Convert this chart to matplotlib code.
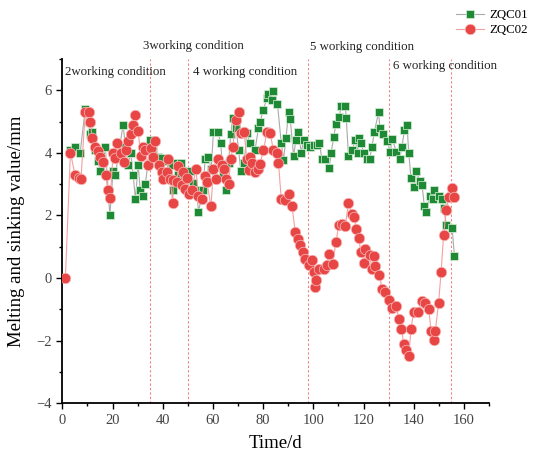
import matplotlib
matplotlib.use("Agg")
import matplotlib.pyplot as plt
from matplotlib.ticker import MultipleLocator

plt.rcParams['font.family'] = ['Liberation Serif', 'DejaVu Serif']

# ZQC01 (green squares)
t1 = [3.2, 5.1, 7.1, 9.1, 10.5, 11.1, 11.9, 12.9, 14.2, 15.1, 15.5, 17.1, 18.9, 20.2, 21.1,
      24.2, 25.1, 26.2, 27.2, 28.2, 29.1, 30.2, 31.0, 32.2, 33.1, 35.1, 36.3, 37.9, 39.6, 41.6,
      43.6, 44.0, 45.6, 46.2, 47.2, 50.9, 52.0, 53.6, 54.2, 56.0, 56.9, 58.2, 59.3, 60.2, 61.9,
      63.1, 63.9, 65.3, 66.2, 67.1, 67.9, 69.2, 70.2, 71.1, 72.4, 73.5, 74.8, 76.8, 78.1, 78.8,
      80.1, 81.5, 82.1, 83.5, 84.1, 85.7, 87.2, 88.1, 89.1, 90.1, 90.8, 92.1, 93.1, 93.9, 95.2,
      96.1, 97.4, 98.8, 100.1, 101.4, 102.4, 103.4, 104.7, 106.3, 107.1, 108.1, 109.0, 110.3, 111.1, 112.7,
      113.1, 114.0, 115.4, 116.7, 117.6, 118.0, 119.0, 120.0, 121.4, 122.4, 123.4, 124.3, 126.0, 126.5, 127.8,
      129.4, 130.7, 131.4, 133.1, 134.4, 135.3, 136.3, 137.3, 138.0, 138.9, 140.2, 141.0, 142.4, 143.3, 144.2,
      145.0, 146.3, 147.7, 148.2, 149.9, 151.3, 151.9, 153.0, 155.3, 156.2]
v1 = [4.10, 4.19, 4.01, 5.40, 5.00, 4.60, 4.68, 4.10, 3.73, 3.41, 3.91, 4.20, 2.00, 3.41, 3.30,
      4.90, 4.20, 3.62, 4.01, 3.30, 2.52, 3.62, 2.82, 2.61, 3.01, 4.40, 4.05, 3.88, 3.83, 3.73,
      3.62, 2.82, 3.69, 3.30, 3.69, 3.41, 3.03, 2.82, 2.10, 2.82, 3.80, 3.88, 3.48, 4.68, 4.68,
      4.31, 3.37, 2.80, 3.67, 4.61, 5.11, 4.79, 4.10, 3.41, 3.67, 4.63, 4.31, 4.10, 4.79, 5.00,
      5.38, 5.75, 5.89, 5.70, 5.99, 5.57, 4.31, 3.78, 4.47, 5.29, 5.08, 3.91, 4.42, 4.68, 4.01,
      4.42, 4.26, 4.20, 4.26, 4.26, 4.31, 3.80, 3.80, 3.51, 4.01, 4.50, 4.93, 5.14, 5.50, 5.50,
      5.11, 3.91, 4.10, 4.40, 4.01, 4.47, 4.31, 4.01, 3.80, 3.80, 4.20, 4.68, 5.29, 4.79, 4.61,
      4.37, 4.04, 4.44, 4.04, 3.80, 4.20, 4.72, 4.90, 4.01, 3.19, 2.91, 3.41, 3.09, 2.98, 2.31,
      2.10, 2.61, 2.52, 2.80, 2.61, 2.52, 2.24, 1.70, 1.60, 0.71]

# ZQC02 (red circles)
t2 = [1.2, 3.2, 5.1, 6.5, 7.4, 9.1, 10.5, 11.1, 11.9, 13.1, 14.2, 15.1, 16.2, 17.3, 18.1,
      19.1, 20.2, 21.1, 21.9, 23.3, 24.5, 25.5, 26.2, 27.2, 28.3, 29.1, 30.2, 31.2, 32.1, 33.1,
      34.1, 35.2, 36.3, 36.9, 38.3, 39.6, 40.2, 41.6, 42.2, 42.9, 44.0, 44.2, 45.6, 46.2, 47.6,
      48.2, 48.9, 49.8, 50.6, 51.6, 53.2, 54.2, 55.6, 56.9, 57.6, 59.2, 60.2, 61.3, 62.2, 63.5,
      64.5, 65.3, 66.2, 67.1, 67.9, 69.2, 70.2, 71.1, 72.4, 73.5, 74.2, 74.8, 75.5, 76.8, 78.1,
      78.8, 80.1, 81.5, 82.8, 84.1, 85.5, 86.1, 87.2, 88.8, 90.1, 91.5, 92.8, 93.9, 94.8, 95.7,
      96.8, 98.1, 99.4, 100.1, 100.8, 101.0, 102.4, 104.1, 105.4, 106.3, 107.7, 109.0, 110.1, 111.4, 112.7,
      114.0, 115.4, 116.3, 117.1, 118.0, 119.0, 120.3, 120.7, 122.4, 123.4, 124.0, 124.7, 126.3, 127.4, 128.7,
      130.0, 131.4, 133.1, 134.0, 135.1, 136.0, 137.1, 138.0, 138.9, 140.0, 141.6, 143.3, 144.6, 146.0, 146.9,
      148.2, 148.6, 149.9, 150.9, 151.9, 153.0, 153.9, 155.3, 156.2]
v2 = [0.00, 4.00, 3.28, 3.20, 3.15, 5.30, 5.30, 4.97, 4.49, 4.19, 4.06, 3.87, 3.71, 3.28, 2.80,
      2.57, 4.00, 3.85, 4.30, 4.00, 3.71, 4.10, 4.38, 4.60, 4.88, 5.20, 4.69, 3.89, 4.19, 4.08,
      3.60, 4.14, 3.87, 4.38, 3.60, 3.39, 3.18, 3.39, 3.79, 3.18, 2.40, 3.12, 3.07, 3.58, 2.97,
      3.39, 2.86, 3.21, 2.70, 2.80, 3.50, 2.62, 2.54, 3.25, 3.07, 2.29, 3.50, 3.18, 3.79, 3.60,
      3.47, 3.18, 3.00, 3.79, 4.19, 5.06, 5.29, 4.62, 4.67, 3.79, 3.44, 3.87, 3.68, 3.39, 3.50,
      3.66, 4.08, 4.67, 4.62, 4.08, 3.98, 3.68, 2.54, 2.49, 2.70, 2.29, 1.47, 1.26, 1.05, 0.83,
      0.62, 0.41, 0.57, 0.20, -0.28, -0.07, 0.30, 0.30, 0.41, 0.78, 0.46, 1.15, 1.69, 1.74, 1.66,
      2.40, 2.06, 1.95, 1.58, 1.29, 0.83, 0.48, 0.94, 0.73, 0.30, 0.70, 0.38, 0.09, -0.34, -0.44,
      -0.71, -0.97, -0.90, -1.29, -1.61, -2.09, -2.31, -2.50, -1.61, -1.08, -1.08, -0.74, -0.81, -1.00, -1.69,
      -1.99, -1.69, -0.79, 0.20, 1.38, 2.19, 2.59, 2.89, 2.59]

boundaries = [35, 50, 98, 130, 155]
labels = ["2working condition", "3working condition", "4 working condition",
          "5 working condition", "6 working condition"]
label_x = [1.0, 32.2, 52.0, 98.8, 131.9]
label_y = [6.59, 7.42, 6.59, 7.39, 6.78]

fig = plt.figure(figsize=(5.35, 4.55), dpi=100)
ax = fig.add_axes([0.1166, 0.1135, 0.7975, 0.757])

for b in boundaries:
    ax.plot([b, b], [-4, 7], color='#f08080', lw=0.8, ls=(0, (2, 2)), zorder=1)

ax.plot(t1, v1, color='#aaaaaa', lw=0.8, marker='s', ms=6.3, mfc='#1f8a36',
        mec='#d9efd9', mew=0.5, label='ZQC01', zorder=3)
ax.plot(t2, v2, color='#f4a0a0', lw=0.8, marker='o', ms=7.6, mfc='#e84545',
        mec='#f7c0c0', mew=0.5, label='ZQC02', zorder=4)

for x, y, s in zip(label_x, label_y, labels):
    ax.text(x, y, s, fontsize=9.3, ha='left', va='center', color='#222222', clip_on=False)

ax.set_xlim(0, 170)
ax.set_ylim(-4, 7)
ax.xaxis.set_major_locator(MultipleLocator(20))
ax.xaxis.set_minor_locator(MultipleLocator(10))
ax.yaxis.set_major_locator(MultipleLocator(2))
ax.yaxis.set_minor_locator(MultipleLocator(1))
ax.tick_params(which='major', direction='out', length=4, width=1.0, labelsize=10.5,
               labelcolor='#444444')
ax.tick_params(which='minor', direction='out', length=2.5, width=1.0)
for s in ['top', 'right']:
    ax.spines[s].set_visible(False)
for s in ['left', 'bottom']:
    ax.spines[s].set_linewidth(1.3)

ax.set_xlabel('Time/d', fontsize=13.5, labelpad=6)
ax.set_ylabel('Melting and sinking value/mm', fontsize=13.5, labelpad=8)

leg = ax.legend(loc='upper left', bbox_to_anchor=(0.835, 1.0), bbox_transform=fig.transFigure,
                frameon=False, fontsize=9.3, handlelength=2.2, borderpad=0.2, labelspacing=0.25,
                handletextpad=0.4)

fig.savefig('out.png', dpi=100)
